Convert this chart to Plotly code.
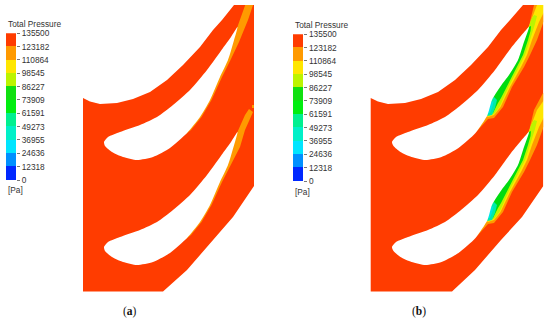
import plotly.graph_objects as go

# legend
band_edges = [0, 12318, 24636, 36955, 49273, 61591, 73909, 86227, 98545, 110864, 123182, 135500]
band_colors = ["#0028FF", "#0090FF", "#00E5FF", "#00F0C8", "#00F090", "#00EE10",
               "#10E010", "#BCF400", "#FFE600", "#FF9A00", "#FF3C00"]
tick_labels = [str(v) for v in band_edges]
RED, ORANGE, YELLOW, LIME, GREEN, TEAL, CYAN = "#FF3C00", "#FF9A00", "#FFE600", "#BCF400", "#00DC10", "#00EBA8", "#00E5E5"

# panel (a) domain outline
a_x = [83, 90, 100, 117, 133, 150, 167, 183, 200, 213, 222, 234, 254, 254, 233, 213, 187, 163, 83]
a_y = [98, 101.5, 104, 103, 99, 92, 80, 65, 47, 30, 20, 5, 5, 186, 217, 240, 270, 291.5, 291.5]
# blade outline (panel a)
blade_x = [104, 108, 120, 140, 157, 173, 190, 207, 223, 231, 237.5, 233.5, 228, 220, 210, 200, 187, 170, 153, 137, 123, 112, 105, 104]
blade_y = [142, 137, 132, 125, 117, 105, 90, 70, 48, 37, 27, 42, 60, 77, 100, 117, 133, 148, 157, 160, 157, 152, 146, 142]
# wake (a)
wa1_x = [256, 253, 248, 239, 230.5, 222, 211.5, 201.5, 191, 186, 180, 217, 237, 240, 245, 247]
wa1_y = [0, 5, 20, 42, 60, 77, 100, 117, 130, 134, 120, 70, 28, 20, 5, 0]
wa2_x = [253, 245, 240, 230.5, 222, 211.5, 201.5, 191, 186, 180, 217, 237, 245, 249]
wa2_y = [112, 130, 147, 165, 182, 205, 222, 235, 239, 225, 175, 133, 115, 109]
wa3_x = [252, 254, 254, 252]
wa3_y = [105, 105, 108, 108]

# panel (b) domain outline
b_x = [370.7, 378, 388, 405, 421, 438, 455, 471, 488, 501, 510, 523, 543.3, 543.3, 522, 501, 475, 452, 370.7]
b_y = [98, 101.5, 104, 103, 99, 92, 80, 65, 47, 30, 20, 5, 5, 186, 217, 240, 270, 291.5, 291.5]
bblade_x = [392, 396, 408, 428, 445, 461, 478, 495, 511, 520, 529, 524, 518, 509, 501.5, 492, 487.5, 475.5, 458.5, 441.5, 425.5, 411.5, 400.5, 393.5, 392]
bblade_y = [142, 137, 132, 125, 117, 105, 90, 70, 48, 37, 27, 42, 60, 75, 85, 100, 115, 133, 148, 157, 160, 157, 152, 146, 142]
# pressure-contour layers behind the blade trailing edge (b)
l1_x = [534, 543, 550, 550, 543.5, 537, 530, 524, 512, 503, 494, 488, 478, 465, 460, 470, 517, 529]
l1_y = [5, -12, -12, 22, 22, 40, 55, 67, 87, 107, 118, 119, 130, 141, 143, 115, 45, 26]
l2_x = [537, 544, 550, 550, 543.5, 539, 532, 527, 521, 510, 500.5, 494, 488, 480, 517, 529]
l2_y = [5, -5, -5, 11, 13, 22, 40, 55, 67, 87, 107, 115, 117, 110, 45, 26]
l3_x = [531, 534, 537, 535, 530, 525, 519, 508.5, 499.5, 494, 488, 482, 517, 529]
l3_y = [20, 15, 16, 24, 40, 55, 67, 87, 107, 114, 116, 110, 45, 27]
l4_x = [529, 531, 530.5, 528, 523, 517, 507, 501, 498, 493, 488, 482, 517]
l4_y = [27, 26, 31, 40, 55, 67, 87, 98, 103, 113, 115, 110, 45]
l5_x = [487, 492, 495, 497, 494, 490]
l5_y = [116, 115, 108, 100, 97, 100]
l6_x = [487, 490, 492.5, 493.5, 490]
l6_y = [114, 113, 106, 101, 103]

# masks outside the domains
mask_a_top_x, mask_a_top_y = [225, 262, 262, 225], [-1, -1, 5, 5]
mask_a_right_x, mask_a_right_y = [254, 262, 262, 254], [-1, -1, 190, 190]
mask_b_top_x, mask_b_top_y = [515, 552, 552, 515], [-6, -6, 5, 5]
mask_b_right_x, mask_b_right_y = [543.3, 552, 552, 543.3], [-6, -6, 190, 190]

PITCH = 105
W, H = 550, 322
fig = go.Figure()


def poly(x, y, color, dy=0, spline=False):
    fig.add_trace(go.Scatter(
        x=x, y=[v + dy for v in y], mode="lines", fill="toself", fillcolor=color,
        line=dict(width=0, color=color, shape="spline" if spline else "linear", smoothing=0.6),
        hoverinfo="skip", showlegend=False))


poly(a_x, a_y, RED)
poly(wa1_x, wa1_y, ORANGE)
poly(wa2_x, wa2_y, ORANGE)
poly(wa3_x, wa3_y, ORANGE)
for d in (0, PITCH):
    poly(blade_x, blade_y, "white", dy=d, spline=True)
poly(mask_a_top_x, mask_a_top_y, "white")
poly(mask_a_right_x, mask_a_right_y, "white")

poly(b_x, b_y, RED)
for d in (0, PITCH):
    for lx, ly, c in [(l1_x, l1_y, ORANGE), (l2_x, l2_y, YELLOW), (l3_x, l3_y, LIME),
                      (l4_x, l4_y, GREEN), (l5_x, l5_y, TEAL), (l6_x, l6_y, CYAN)]:
        poly(lx, ly, c, dy=d)
for d in (0, PITCH):
    poly(bblade_x, bblade_y, "white", dy=d, spline=True)
poly(mask_b_top_x, mask_b_top_y, "white")
poly(mask_b_right_x, mask_b_right_y, "white")

lows = band_edges[:-1]
heights = [h - l for h, l in zip(band_edges[1:], lows)]
for xa, ya in (("x2", "y2"), ("x3", "y3")):
    fig.add_trace(go.Bar(x=[0] * len(lows), y=heights, base=lows, width=1,
                         marker=dict(color=band_colors, line=dict(width=0)),
                         xaxis=xa, yaxis=ya, hoverinfo="skip", showlegend=False))

hidden = dict(visible=False, fixedrange=True, automargin=False)
tick = dict(range=[0, 135500], tickmode="array", tickvals=band_edges, ticktext=tick_labels,
            side="right", ticks="outside", ticklen=3, tickwidth=1, tickcolor="#777",
            tickfont=dict(family="Liberation Sans", size=8.3, color="#333"), automargin=False,
            showgrid=False, zeroline=False, showline=False, fixedrange=True)
fig.update_layout(
    template="none",
    width=W, height=H, margin=dict(l=0, r=0, t=0, b=0, pad=0), autosize=False,
    paper_bgcolor="white", plot_bgcolor="rgba(0,0,0,0)", bargap=0, showlegend=False,
    xaxis=dict(range=[0, W], domain=[0, 1], **hidden),
    yaxis=dict(range=[H, 0], domain=[0, 1], **hidden),
    xaxis2=dict(range=[-0.5, 0.5], domain=[5.7 / W, 16 / W], anchor="y2", **hidden),
    yaxis2=dict(domain=[1 - 180 / H, 1 - 33.3 / H], anchor="x2", **tick),
    xaxis3=dict(range=[-0.5, 0.5], domain=[293 / W, 303.3 / W], anchor="y3", **hidden),
    yaxis3=dict(domain=[1 - 181 / H, 1 - 34.3 / H], anchor="x3", **tick),
)


def note(x, y, text, size=8.3, family="Liberation Sans", color="#333", anchor="left"):
    fig.add_annotation(x=x, y=y, xref="x", yref="y", text=text, showarrow=False, xanchor=anchor,
                       yanchor="middle", xshift=0, font=dict(family=family, size=size, color=color))


note(5.5, 24, "Total Pressure")
note(5.5, 190, "[Pa]")
note(293, 25, "Total Pressure")
note(293, 192, "[Pa]")
note(130, 311.5, "(<b>a</b>)", size=11.5, family="Liberation Serif", color="#111", anchor="center")
note(419, 311.5, "(<b>b</b>)", size=11.5, family="Liberation Serif", color="#111", anchor="center")

fig.write_html("out.html", config={"displayModeBar": False},
               post_script="document.body.style.margin='0';document.documentElement.style.overflow='hidden';")
